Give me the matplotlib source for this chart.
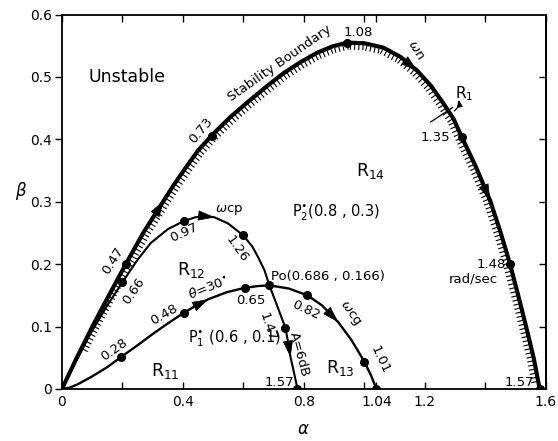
import numpy as np
import matplotlib
matplotlib.use("Agg")
from matplotlib import pyplot as plt
from matplotlib.collections import LineCollection

# stability boundary (alpha, beta)
bound_a = [0, 0.05, 0.106, 0.16, 0.211, 0.27, 0.337, 0.37, 0.41, 0.45, 0.495, 0.53, 0.56,
           0.62, 0.68, 0.733, 0.79, 0.845, 0.895, 0.944, 1.0, 1.063, 1.12, 1.175, 1.22,
           1.261, 1.295, 1.323, 1.37, 1.416, 1.45, 1.482, 1.51, 1.535, 1.56, 1.58]
bound_b = [0, 0.051, 0.105, 0.154, 0.2, 0.251, 0.302, 0.327, 0.355, 0.382, 0.406, 0.423, 0.437,
           0.462, 0.486, 0.506, 0.524, 0.539, 0.549, 0.555, 0.554, 0.547, 0.532, 0.51, 0.486,
           0.458, 0.433, 0.403, 0.355, 0.302, 0.252, 0.2, 0.148, 0.1, 0.05, 0]

# omega_cp locus (A = 6 dB)
cp_a = [0, 0.05, 0.096, 0.15, 0.2, 0.25, 0.294, 0.35, 0.403, 0.44, 0.469, 0.505, 0.55,
        0.6, 0.63, 0.65, 0.67, 0.686, 0.712, 0.739, 0.748, 0.756, 0.768, 0.779]
cp_b = [0, 0.048, 0.09, 0.134, 0.171, 0.207, 0.234, 0.256, 0.269, 0.275, 0.277, 0.275,
        0.265, 0.246, 0.228, 0.21, 0.19, 0.166, 0.133, 0.098, 0.075, 0.051, 0.025, 0]

# omega_cg locus (theta = 30 deg)
cg_a = [0, 0.025, 0.05, 0.096, 0.15, 0.195, 0.25, 0.3, 0.35, 0.403, 0.445, 0.485, 0.545, 0.604,
        0.65, 0.686, 0.75, 0.812, 0.86, 0.914, 0.958, 1.0, 1.022, 1.04]
cg_b = [0, 0.002, 0.007, 0.019, 0.035, 0.051, 0.07, 0.088, 0.105, 0.122, 0.134, 0.144, 0.155,
        0.162, 0.165, 0.166, 0.161, 0.15, 0.134, 0.107, 0.078, 0.044, 0.022, 0]

# frequency marks (rad/sec) on each curve
bound_dots = [(0.211, 0.2), (0.495, 0.406), (0.944, 0.555), (1.323, 0.403), (1.482, 0.2), (1.58, 0)]
cp_dots = [(0.2, 0.171), (0.403, 0.269), (0.6, 0.246), (0.686, 0.166), (0.739, 0.098), (0.779, 0)]
cg_dots = [(0.195, 0.051), (0.403, 0.122), (0.604, 0.162), (0.812, 0.15), (1.0, 0.044), (1.04, 0)]

# arrow positions given as indices into the curve lists
bound_arrows = [6, 23, 29]
cp_arrows = [11, 21]
cg_arrows = [11, 19]

fig = plt.figure(figsize=(5.58, 4.41), dpi=100)
ax = fig.add_axes([0.111, 0.118, 0.867, 0.849])
ax.set_xlim(0, 1.6)
ax.set_ylim(0, 0.6)

ax.plot(bound_a, bound_b, color="k", lw=3.0, solid_capstyle="round", solid_joinstyle="round")
ax.plot(cp_a, cp_b, color="k", lw=1.5, solid_joinstyle="round")
ax.plot(cg_a, cg_b, color="k", lw=1.7, solid_joinstyle="round")

for pts in (bound_dots, cp_dots, cg_dots):
    ax.plot([p[0] for p in pts], [p[1] for p in pts], "o", color="k", ms=5.5, zorder=5)


def add_arrows(xs, ys, idx):
    for i in idx:
        ax.annotate("", xy=(xs[i], ys[i]), xytext=(xs[i - 1], ys[i - 1]),
                    arrowprops=dict(arrowstyle="-|>,head_length=0.9,head_width=0.28",
                                    color="k", lw=0.5, shrinkA=0, shrinkB=0,
                                    mutation_scale=12), zorder=6)


add_arrows(bound_a, bound_b, bound_arrows)
add_arrows(cp_a, cp_b, cp_arrows)
add_arrows(cg_a, cg_b, cg_arrows)

# hatching on the stable side of the boundary
pix = ax.transData.transform(np.column_stack([bound_a, bound_b]))
seg = np.diff(pix, axis=0)
seg_len = np.hypot(seg[:, 0], seg[:, 1])
cum = np.concatenate([[0], np.cumsum(seg_len)])
ticks = []
for s in np.arange(45, cum[-1] - 6, 4.2):
    k = np.searchsorted(cum, s) - 1
    t = (s - cum[k]) / seg_len[k]
    p = pix[k] + t * seg[k]
    d = seg[k] / seg_len[k]
    n = np.array([d[1], -d[0]])
    p0 = p + n * 1.5
    p1 = p + n * 7.0
    ticks.append(ax.transData.inverted().transform([p0, p1]))
ax.add_collection(LineCollection(ticks, colors="k", linewidths=0.8))

# R1 marker
ax.plot([1.22, 1.292], [0.428, 0.451], color="k", lw=0.9)
ax.annotate("", xy=(1.31, 0.468), xytext=(1.29, 0.443),
            arrowprops=dict(arrowstyle="-|>,head_length=0.5,head_width=0.2", color="k",
                            lw=0.9, connectionstyle="arc3,rad=0.4", mutation_scale=8))

fs = 9.5
lab = dict(fontsize=fs, ha="center", va="center")
ax.text(0.17, 0.205, "0.47", rotation=58, **lab)
ax.text(0.46, 0.415, "0.73", rotation=50, **lab)
ax.text(0.98, 0.572, "1.08", **lab)
ax.text(1.172, 0.543, r"$\omega$n", rotation=-58, **lab)
ax.text(1.33, 0.474, r"R$_1$", fontsize=11, ha="center", va="center")
ax.text(1.285, 0.403, "1.35", ha="right", va="center", fontsize=fs)
ax.text(1.47, 0.2, "1.48", ha="right", va="center", fontsize=fs)
ax.text(1.36, 0.177, "rad/sec", **lab)
ax.text(1.563, 0.011, "1.57", ha="right", va="center", fontsize=fs)
ax.text(0.72, 0.522, "Stability Boundary", rotation=35, **lab)

ax.text(0.236, 0.157, "0.66", rotation=55, **lab)
ax.text(0.405, 0.25, "0.97", rotation=25, **lab)
ax.text(0.552, 0.286, r"$\omega$cp", **lab)
ax.text(0.578, 0.224, "1.26", rotation=-55, **lab)
ax.text(0.69, 0.18, "Po(0.686 , 0.166)", fontsize=fs, ha="left", va="center")
ax.text(0.68, 0.1, "1.47", rotation=-72, **lab)
ax.text(0.786, 0.055, "A=6dB", rotation=-75, **lab)
ax.text(0.768, 0.011, "1.57", ha="right", va="center", fontsize=fs)

ax.text(0.172, 0.063, "0.28", rotation=35, **lab)
ax.text(0.337, 0.119, "0.48", rotation=30, **lab)
ax.text(0.483, 0.163, r"$\theta$=30$^{\bullet}$", rotation=22, **lab)
ax.text(0.626, 0.142, "0.65", **lab)
ax.text(0.808, 0.126, "0.82", rotation=-25, **lab)
ax.text(0.953, 0.122, r"$\omega$cg", rotation=-55, **lab)
ax.text(1.053, 0.046, "1.01", rotation=-65, **lab)

big = dict(fontsize=12.5, ha="center", va="center")
ax.text(0.215, 0.5, "Unstable", **big)
ax.text(1.02, 0.35, r"R$_{14}$", **big)
ax.text(0.426, 0.19, r"R$_{12}$", **big)
ax.text(0.343, 0.028, r"R$_{11}$", **big)
ax.text(0.921, 0.033, r"R$_{13}$", **big)
ax.text(0.416, 0.08, r"P$_1^{\bullet}$ (0.6 , 0.1)", fontsize=10.5, ha="left", va="center")
ax.text(0.762, 0.282, r"P$_2^{\bullet}$(0.8 , 0.3)", fontsize=10.5, ha="left", va="center")

# axes, ticks and frame
ax.set_xticks([0, 0.2, 0.4, 0.6, 0.8, 1.0, 1.04, 1.2, 1.4, 1.6])
ax.set_xticklabels(["0", "", "0.4", "", "0.8", "", "1.04", "1.2", "", "1.6"])
ax.set_yticks([0, 0.1, 0.2, 0.3, 0.4, 0.5, 0.6])
ax.set_yticklabels(["0", "0.1", "0.2", "0.3", "0.4", "0.5", "0.6"])
ax.tick_params(axis="x", direction="in", top=True, length=5, width=1, labelsize=10, pad=4)
ax.tick_params(axis="y", direction="out", length=5, width=1, labelsize=10, pad=2)
ax2 = ax.secondary_yaxis("right")
ax2.set_yticks([0.1, 0.2, 0.3, 0.4, 0.5])
ax2.tick_params(direction="in", length=5, width=1, labelright=False)
for sp in list(ax.spines.values()) + [ax2.spines["right"]]:
    sp.set_linewidth(1.3)
ax.set_xlabel(r"$\alpha$", fontsize=12, labelpad=8)
ax.set_ylabel(r"$\beta$", fontsize=12, rotation=0, labelpad=12)
ax.yaxis.set_label_coords(-0.085, 0.5)

fig.savefig("out.png", dpi=100)
